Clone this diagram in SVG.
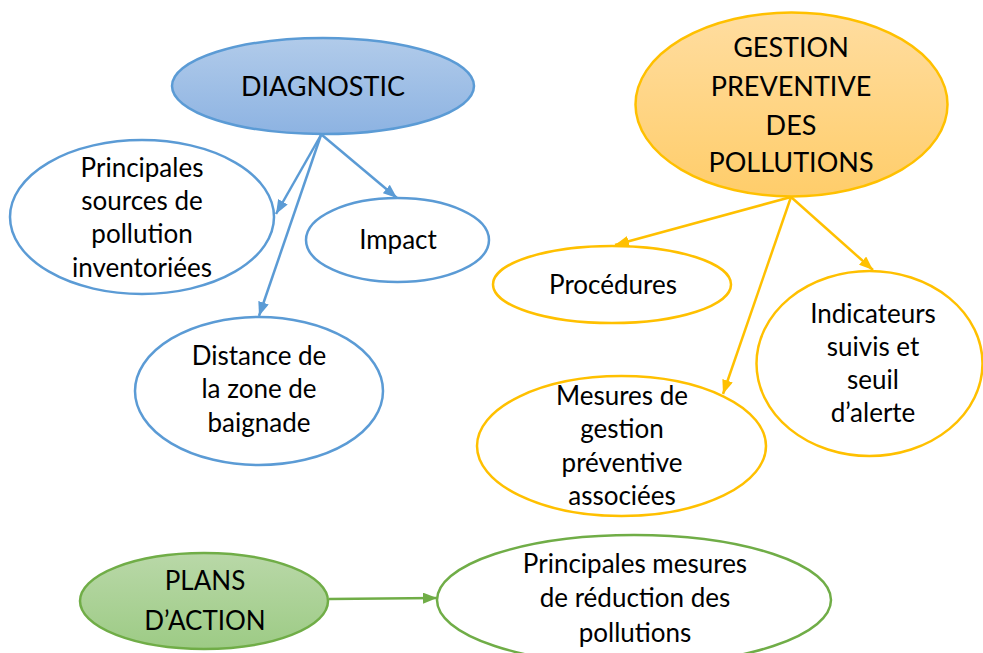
<svg xmlns="http://www.w3.org/2000/svg" width="983" height="653" viewBox="0 0 983 653">
<defs>
<linearGradient id="gBlue" x1="0" y1="0" x2="0" y2="1"><stop offset="0" stop-color="#B1CBEA"/><stop offset="1" stop-color="#8DB3E2"/></linearGradient>
<linearGradient id="gGold" x1="0" y1="0" x2="0" y2="1"><stop offset="0" stop-color="#FFDDA0"/><stop offset="1" stop-color="#FFCD6A"/></linearGradient>
<linearGradient id="gGreen" x1="0" y1="0" x2="0" y2="1"><stop offset="0" stop-color="#B9D8A8"/><stop offset="1" stop-color="#9DCB85"/></linearGradient>
<marker id="aBlue" viewBox="0 0 14 11" refX="14" refY="5.5" markerWidth="14" markerHeight="11" markerUnits="userSpaceOnUse" orient="auto"><path d="M0,0 L14,5.5 L0,11 Z" fill="#5B9BD5"/></marker>
<marker id="aGold" viewBox="0 0 14 11" refX="14" refY="5.5" markerWidth="14" markerHeight="11" markerUnits="userSpaceOnUse" orient="auto"><path d="M0,0 L14,5.5 L0,11 Z" fill="#FFC000"/></marker>
<marker id="aGreen" viewBox="0 0 14 11" refX="14" refY="5.5" markerWidth="14" markerHeight="11" markerUnits="userSpaceOnUse" orient="auto"><path d="M0,0 L14,5.5 L0,11 Z" fill="#70AD47"/></marker>
</defs>
<style>
text{font-family:Lato,"Liberation Sans",sans-serif;fill:#000;text-anchor:middle}
.t{font-size:26px}
.big{font-size:27px}
.blue{stroke:#5B9BD5;stroke-width:2.5}
.gold{stroke:#FFC000;stroke-width:2.5}
.green{stroke:#70AD47;stroke-width:2.5}
.w{fill:#fff}
.c{fill:none;stroke-width:2.5}
</style>
<rect width="983" height="653" fill="#fff"/>
<g id="connectors">
<line class="c" x1="321" y1="135" x2="276" y2="214" stroke="#5B9BD5" marker-end="url(#aBlue)"/>
<line class="c" x1="321" y1="135" x2="259" y2="316" stroke="#5B9BD5" marker-end="url(#aBlue)"/>
<line class="c" x1="322" y1="135" x2="397" y2="198" stroke="#5B9BD5" marker-end="url(#aBlue)"/>
<line class="c" x1="791" y1="197" x2="615" y2="245" stroke="#FFC000" marker-end="url(#aGold)"/>
<line class="c" x1="791" y1="197" x2="723" y2="394" stroke="#FFC000" marker-end="url(#aGold)"/>
<line class="c" x1="791" y1="197" x2="873" y2="270" stroke="#FFC000" marker-end="url(#aGold)"/>
<line class="c" x1="329" y1="599" x2="437" y2="598" stroke="#70AD47" marker-end="url(#aGreen)"/>
</g>
<g id="diagnostic">
<ellipse cx="323" cy="86" rx="151" ry="48" fill="url(#gBlue)" class="blue"/>
<text class="big" x="323" y="96">DIAGNOSTIC</text>
</g>
<g id="sources">
<ellipse cx="142" cy="217" rx="132" ry="77" class="w blue"/>
<text class="t" x="142" y="177">Principales</text>
<text class="t" x="142" y="210">sources de</text>
<text class="t" x="142" y="243">pollution</text>
<text class="t" x="142" y="277">inventoriées</text>
</g>
<g id="impact">
<ellipse cx="397.5" cy="240" rx="91.5" ry="42" class="w blue"/>
<text class="t" x="398" y="249">Impact</text>
</g>
<g id="distance">
<ellipse cx="259" cy="391" rx="124" ry="74" class="w blue"/>
<text class="t" x="259" y="365">Distance de</text>
<text class="t" x="259" y="398">la zone de</text>
<text class="t" x="259" y="432">baignade</text>
</g>
<g id="gestion">
<ellipse cx="791.5" cy="104.5" rx="156" ry="92" fill="url(#gGold)" class="gold"/>
<text class="big" x="791" y="57">GESTION</text>
<text class="big" x="791" y="96">PREVENTIVE</text>
<text class="big" x="791" y="135">DES</text>
<text class="big" x="791" y="172">POLLUTIONS</text>
</g>
<g id="procedures">
<ellipse cx="612" cy="284.5" rx="119" ry="38.5" class="w gold"/>
<text class="t" x="613" y="294">Procédures</text>
</g>
<g id="mesures">
<ellipse cx="621.5" cy="446" rx="144.5" ry="70" class="w gold"/>
<text class="t" x="622" y="405">Mesures de</text>
<text class="t" x="622" y="438">gestion</text>
<text class="t" x="622" y="472">préventive</text>
<text class="t" x="622" y="505">associées</text>
</g>
<g id="indicateurs">
<ellipse cx="869.5" cy="363.5" rx="113" ry="92.5" class="w gold"/>
<text class="t" x="873" y="323">Indicateurs</text>
<text class="t" x="873" y="356">suivis et</text>
<text class="t" x="873" y="389">seuil</text>
<text class="t" x="873" y="422">d’alerte</text>
</g>
<g id="plans">
<ellipse cx="204" cy="601" rx="124" ry="48" fill="url(#gGreen)" class="green"/>
<text class="t" x="205" y="590">PLANS</text>
<text class="t" x="205" y="630">D’ACTION</text>
</g>
<g id="reduction">
<ellipse cx="634" cy="600" rx="197" ry="65" class="w green"/>
<text class="t" x="635" y="573">Principales mesures</text>
<text class="t" x="635" y="607">de réduction des</text>
<text class="t" x="635" y="642">pollutions</text>
</g>
</svg>
